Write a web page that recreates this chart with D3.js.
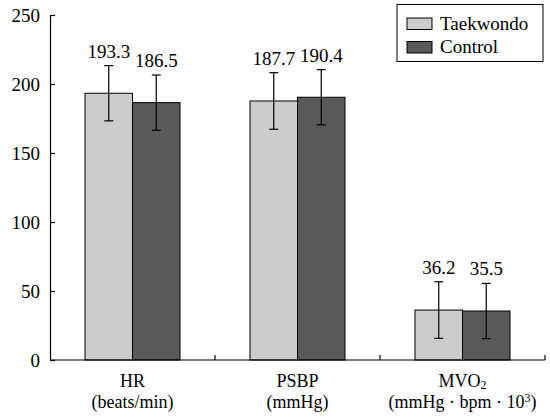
<!DOCTYPE html>
<html>
<head>
<meta charset="utf-8">
<script src="https://cdn.jsdelivr.net/npm/d3@7"></script>
<style>
  body { margin: 0; background: #fff; }
</style>
</head>
<body>
<div id="chart"></div>
<script>
let categories = ['HR', 'PSBP', 'MVO2'];
let units = ['(beats/min)', '(mmHg)', '(mmHg · bpm · 10³)'];
let groups = ['Taekwondo', 'Control'];
let taekwondo_values = [193.3, 187.7, 36.2];
let control_values = [186.5, 190.4, 35.5];
let taekwondo_sd = [20, 20.5, 20.5];
let control_sd = [20, 20, 20];
let y_ticks = [0, 50, 100, 150, 200, 250];
let colors = ['#cccccc', '#595959'];

let serif = "'Liberation Serif'";
let fs = '19px';
let width = 550, height = 418;
let margin = {left: 50, right: 5, top: 15, bottom: 58};

let svg = d3.select('#chart').append('svg')
  .attr('width', width)
  .attr('height', height);

let x = d3.scaleBand()
  .domain(categories)
  .range([margin.left, width - margin.right]);

let xInner = d3.scaleBand()
  .domain(groups)
  .range([0, 95]);

let y = d3.scaleLinear()
  .domain([0, 250])
  .range([height - margin.bottom, margin.top]);

let rows = [];
categories.forEach(function(c, i) {
  rows.push({cat: c, group: 'Taekwondo', value: taekwondo_values[i], sd: taekwondo_sd[i]});
  rows.push({cat: c, group: 'Control', value: control_values[i], sd: control_sd[i]});
});

function barX(d) {
  return x(d.cat) + (x.bandwidth() - 95) / 2 + xInner(d.group);
}

// bars
svg.selectAll('.bar')
  .data(rows).enter()
  .append('rect')
  .attr('class', 'bar')
  .attr('x', barX)
  .attr('y', d => y(d.value))
  .attr('width', xInner.bandwidth())
  .attr('height', d => y(0) - y(d.value))
  .attr('fill', d => colors[groups.indexOf(d.group)])
  .attr('stroke', '#000')
  .attr('stroke-width', 1);

// error bars
let err = svg.selectAll('.err')
  .data(rows).enter()
  .append('g')
  .attr('class', 'err')
  .attr('stroke', '#000')
  .attr('stroke-width', 1.2);

err.append('line')
  .attr('x1', d => barX(d) + xInner.bandwidth() / 2)
  .attr('x2', d => barX(d) + xInner.bandwidth() / 2)
  .attr('y1', d => y(d.value + d.sd))
  .attr('y2', d => y(d.value - d.sd));

[1, -1].forEach(function(s) {
  err.append('line')
    .attr('x1', d => barX(d) + xInner.bandwidth() / 2 - 4.5)
    .attr('x2', d => barX(d) + xInner.bandwidth() / 2 + 4.5)
    .attr('y1', d => y(d.value + s * d.sd))
    .attr('y2', d => y(d.value + s * d.sd));
});

// value labels
svg.selectAll('.val')
  .data(rows).enter()
  .append('text')
  .attr('class', 'val')
  .attr('x', d => barX(d) + xInner.bandwidth() / 2)
  .attr('y', d => y(d.value + d.sd) - 8)
  .attr('text-anchor', 'middle')
  .style('font-size', fs)
  .style('font-family', serif)
  .text(d => d.value.toFixed(1));

// y axis
let yAxis = svg.append('g')
  .attr('transform', 'translate(' + margin.left + ',0)')
  .call(d3.axisLeft(y).tickValues(y_ticks).tickSizeInner(-5).tickSizeOuter(0).tickPadding(10));
yAxis.attr('font-family', null).attr('font-size', null);
yAxis.selectAll('text').style('font-size', fs).style('font-family', serif);
yAxis.select('.domain').attr('stroke-width', 1.2);
yAxis.selectAll('.tick line').attr('stroke-width', 1.2);

// x axis
let boundaries = categories.map(c => x(c) + x.bandwidth());
let xAxisG = svg.append('g')
  .attr('transform', 'translate(0,' + y(0) + ')');
xAxisG.append('line')
  .attr('x1', margin.left).attr('x2', width - margin.right)
  .attr('stroke', '#000').attr('stroke-width', 1.2);
xAxisG.selectAll('.xtick')
  .data(boundaries).enter()
  .append('line')
  .attr('x1', d => d).attr('x2', d => d)
  .attr('y1', 0).attr('y2', -5)
  .attr('stroke', '#000').attr('stroke-width', 1.2);

// category labels
let labels = svg.selectAll('.cat')
  .data(categories).enter()
  .append('g')
  .attr('class', 'cat');

labels.append('text')
  .attr('x', d => x(d) + x.bandwidth() / 2)
  .attr('y', 387)
  .attr('text-anchor', 'middle')
  .style('font-size', '18px')
  .style('font-family', serif)
  .each(function(d) {
    let t = d3.select(this);
    if (d === 'MVO2') {
      t.append('tspan').text('MVO');
      t.append('tspan').attr('dy', 2).style('font-size', '12px').text('2');
    } else {
      t.text(d);
    }
  });

labels.append('text')
  .attr('x', d => x(d) + x.bandwidth() / 2)
  .attr('y', 408)
  .attr('text-anchor', 'middle')
  .style('font-size', '18px')
  .style('font-family', serif)
  .each(function(d, i) {
    let t = d3.select(this);
    if (d === 'MVO2') {
      t.append('tspan').text('(mmHg · bpm · 10');
      t.append('tspan').attr('dy', -6).style('font-size', '12px').text('3');
      t.append('tspan').attr('dy', 6).text(')');
    } else {
      t.text(units[i]);
    }
  });

// legend
let legend = svg.append('g');
legend.append('rect')
  .attr('x', 397).attr('y', 4.5)
  .attr('width', 146).attr('height', 57)
  .attr('fill', '#fff').attr('stroke', '#000').attr('stroke-width', 1);

groups.forEach(function(g, i) {
  legend.append('rect')
    .attr('x', 407).attr('y', 18 + i * 23.5)
    .attr('width', 25).attr('height', 11.5)
    .attr('fill', colors[i]).attr('stroke', '#000').attr('stroke-width', 1);
  legend.append('text')
    .attr('x', 440).attr('y', 29.5 + i * 23.5)
    .style('font-size', fs)
    .style('font-family', serif)
    .text(g);
});
</script>
</body>
</html>
